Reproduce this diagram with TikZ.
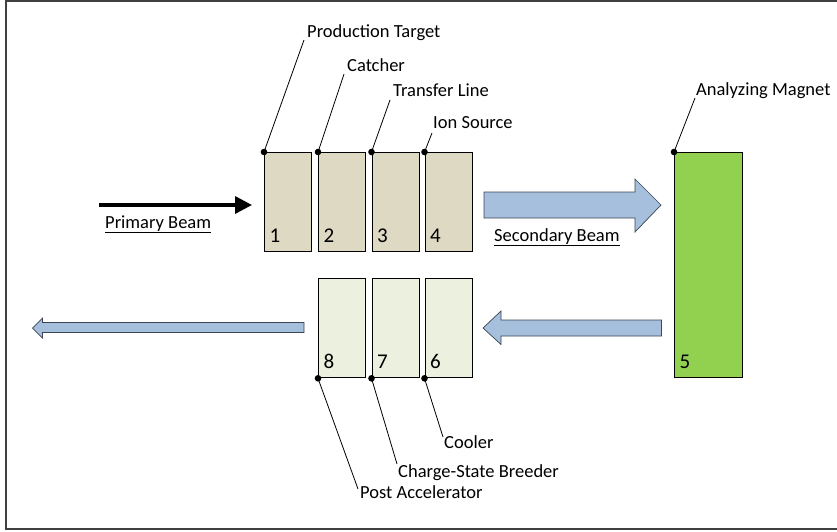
\documentclass[tikz,border=0pt]{standalone}
\usepackage{fontspec}
\setmainfont{Carlito}
\usetikzlibrary{arrows.meta}
\definecolor{tanfill}{HTML}{DDD9C3}
\definecolor{palegreen}{HTML}{EBF1DE}
\definecolor{magnetgreen}{HTML}{92D050}
\definecolor{beamblue}{HTML}{A5BFDD}
\definecolor{beamedge}{HTML}{3A4654}
\definecolor{framegray}{HTML}{404040}
\begin{document}
\begin{tikzpicture}[x=1pt,y=-1pt,
  font=\fontsize{18.5}{22}\selectfont,
  stage/.style={draw=black, line width=1.3pt, minimum width=47pt,
    minimum height=99pt, inner sep=0pt, anchor=north west},
  num/.style={anchor=base west, inner sep=0pt, font=\fontsize{21}{24}\selectfont},
  lbl/.style={anchor=base west, inner sep=0pt},
  leader/.style={line width=0.8pt, black},
  blockarrow/.style={fill=beamblue, draw=beamedge, line width=0.7pt, line join=miter}]
\useasboundingbox (0,0) rectangle (837,531);
\begin{scope}
  \clip (0,0) rectangle (837,531);
  \draw[framegray, line width=1.3pt] (6,1) rectangle (880,529);
\end{scope}

% target-side stages
\node[stage, fill=tanfill] (b1) at (264,152) {};
\node[stage, fill=tanfill] (b2) at (318,152) {};
\node[stage, fill=tanfill] (b3) at (371.5,152) {};
\node[stage, fill=tanfill] (b4) at (424.5,152) {};
% analyzing magnet
\node[stage, fill=magnetgreen, minimum width=68pt, minimum height=225pt] (b5) at (674,152) {};
% post-separation stages
\node[stage, fill=palegreen] (b8) at (318,278) {};
\node[stage, fill=palegreen] (b7) at (371.5,278) {};
\node[stage, fill=palegreen] (b6) at (424.5,278) {};

% stage numbers
\foreach \b/\n in {b1/1,b2/2,b3/3,b4/4,b5/5,b6/6,b7/7,b8/8}
  \node[num] (n\n) at ([shift={(5.5,-9.5)}]\b.south west) {\n};

% primary beam
\coordinate (pbstart) at (99,205);
\coordinate (pbend) at (252,205);
\draw[line width=3.5pt, -{Triangle[length=17pt,width=17pt]}] (pbstart) -- (pbend);
\node[lbl] (pbl) at (105,228) {\underline{Primary Beam}};

% secondary beam block arrows
\draw[blockarrow] (484,192) -- (635,192) -- (635,179) -- (661,205)
  -- (635,232) -- (635,218) -- (484,218) -- cycle;
\node[lbl] (sbl) at (494,241) {\underline{Secondary Beam}};
\draw[blockarrow] (661.5,320) -- (501,320) -- (501,311) -- (483,328)
  -- (501,344.5) -- (501,336) -- (661.5,336) -- cycle;
\draw[blockarrow] (304,322.5) -- (42.5,322.5) -- (42.5,318) -- (32.5,328)
  -- (42.5,338) -- (42.5,332.5) -- (304,332.5) -- cycle;

% leader lines above
\coordinate (e1) at (304,40);
\coordinate (e2) at (344,74);
\coordinate (e3) at (390,100);
\coordinate (e4) at (432,133);
\coordinate (e5) at (695,98);
\foreach \b/\e in {b1/e1,b2/e2,b3/e3,b4/e4,b5/e5} {
  \draw[leader] (\b.north west) -- (\e);
  \fill (\b.north west) circle (3.3pt);
}
\node[lbl] (l1) at ([shift={(3,-3)}]e1) {Production Target};
\node[lbl] (l2) at ([shift={(3,-3)}]e2) {Catcher};
\node[lbl] (l3) at ([shift={(3,-4)}]e3) {Transfer Line};
\node[lbl] (l4) at ([shift={(1,-5)}]e4) {Ion Source};
\node[lbl] (l5) at ([shift={(1,-3)}]e5) {Analyzing Magnet};

% leader lines below
\coordinate (e6) at (443,437);
\coordinate (e7) at (397,464);
\coordinate (e8) at (358,489);
\foreach \b/\e in {b6/e6,b7/e7,b8/e8} {
  \draw[leader] (\b.south west) -- (\e);
  \fill (\b.south west) circle (3.3pt);
}
\node[lbl] (l6) at ([shift={(1,11)}]e6) {Cooler};
\node[lbl] (l7) at ([shift={(1,13)}]e7) {Charge-State Breeder};
\node[lbl] (l8) at ([shift={(2,9)}]e8) {Post Accelerator};
\end{tikzpicture}
\end{document}
